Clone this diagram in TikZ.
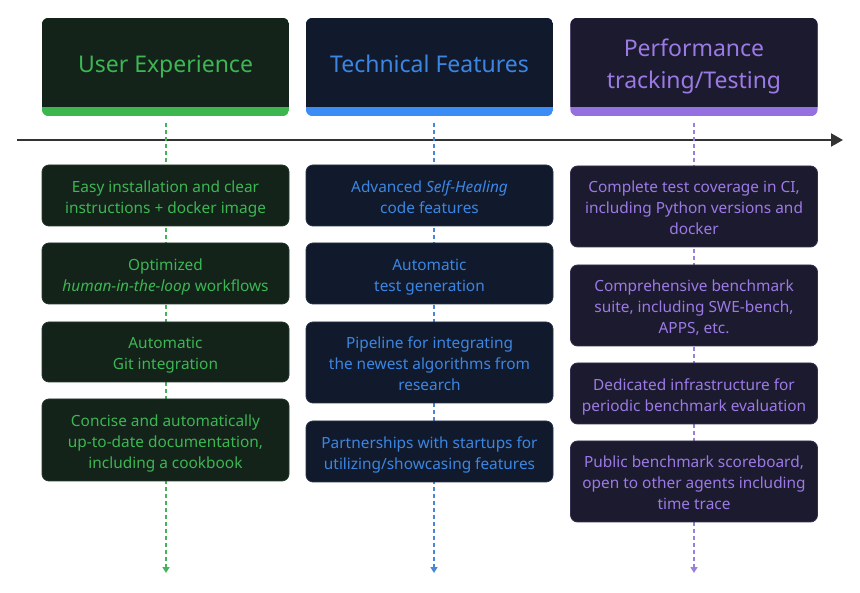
\documentclass[tikz,border=0pt]{standalone}
\usepackage{fontspec}
\setmainfont{Noto Sans}
\usetikzlibrary{arrows.meta,backgrounds}
\definecolor{gdark}{HTML}{13231A}
\definecolor{gtext}{HTML}{3DB653}
\definecolor{gbar}{HTML}{3CB64F}
\definecolor{gline}{HTML}{45B35A}
\definecolor{gedge}{HTML}{25372B}
\definecolor{bdark}{HTML}{111A2D}
\definecolor{btext}{HTML}{3C86E2}
\definecolor{bbar}{HTML}{3B8CF5}
\definecolor{bline}{HTML}{4A86D8}
\definecolor{bedge}{HTML}{26324A}
\definecolor{pdark}{HTML}{1C1A2E}
\definecolor{ptext}{HTML}{9C7AE6}
\definecolor{pbar}{HTML}{9470E0}
\definecolor{pline}{HTML}{9A80DC}
\definecolor{pedge}{HTML}{332F4E}
\definecolor{axis}{HTML}{333333}
\tikzset{
  head/.style={minimum width=247pt, minimum height=89pt, inner sep=0pt, align=center,
    text=#1text, font=\fontsize{23}{32}\selectfont, text height=25.5pt, text depth=6pt},
  headtwo/.style={text height=57.5pt},
  card/.style={minimum width=247pt, inner sep=0pt, align=center, rounded corners=7pt,
    fill=#1dark, draw=#1edge, line width=0.8pt, text=#1text, font=\fontsize{15.4}{21}\selectfont,
    text height=39.5pt, text depth=4pt},
  three/.style={text height=60.5pt},
  vline/.style={#1line, line width=1.5pt, dash pattern=on 4pt off 3pt,
    -{Triangle[length=6pt,width=7pt]}},
  axisline/.style={axis, line width=2pt, -{Triangle[length=12pt,width=13pt]}}
}
\begin{document}
\begin{tikzpicture}[x=1pt,y=-1pt]
\useasboundingbox (0,0) rectangle (860,593);
% timeline
\coordinate (tl) at (17,140);
\coordinate (tr) at (843,140);
\draw[axisline] (tl) -- (tr);
% vertical dashed lines
\coordinate (g1) at (166,123); \coordinate (g2) at (166,573);
\coordinate (b1) at (434,123); \coordinate (b2) at (434,573);
\coordinate (p1) at (694,123); \coordinate (p2) at (694,573);
\draw[vline=g] (g1) -- (g2);
\draw[vline=b] (b1) -- (b2);
\draw[vline=p] (p1) -- (p2);
% headers
\node[head=g] (hg) at (165.5,62.5) {User Experience};
\node[head=b] (hb) at (429.5,62.5) {Technical Features};
\node[head=p, headtwo] (hp) at (694,62.5) {Performance\\tracking/Testing};
\begin{scope}[on background layer]
  \foreach \n/\c in {hg/g,hb/b,hp/p}{
    \begin{scope}
      \clip[rounded corners=7pt] (\n.north west) rectangle ([yshift=-9pt]\n.south east);
      \fill[\c bar] (\n.north west) rectangle ([yshift=-9pt]\n.south east);
      \fill[\c dark] (\n.north west) rectangle (\n.south east);
    \end{scope}
  }
\end{scope}
% column 1
\node[card=g, minimum height=61pt] (g-a) at (165.5,195.5) {Easy installation and clear\\instructions + docker image};
\node[card=g, minimum height=61pt] (g-b) at (165.5,273.5) {Optimized\\\textit{human-in-the-loop} workflows};
\node[card=g, minimum height=60pt] (g-c) at (165.5,352) {Automatic\\Git integration};
\node[card=g, three, minimum height=82pt] (g-d) at (165.5,440) {Concise and automatically\\up-to-date documentation,\\including a cookbook};
% column 2
\node[card=b, minimum height=61pt] (b-a) at (429.5,195.5) {Advanced \textit{Self-Healing}\\code features};
\node[card=b, minimum height=61pt] (b-b) at (429.5,273.5) {Automatic\\test generation};
\node[card=b, three, minimum height=81pt] (b-c) at (429.5,362.5) {Pipeline for integrating\\the newest algorithms from\\research};
\node[card=b, minimum height=61pt] (b-d) at (429.5,451.5) {Partnerships with startups for\\utilizing/showcasing features};
% column 3
\node[card=p, three, minimum height=81pt] (p-a) at (694,206.5) {Complete test coverage in CI,\\including Python versions and\\docker};
\node[card=p, three, minimum height=81pt] (p-b) at (694,305.5) {Comprehensive benchmark\\suite, including SWE-bench,\\APPS, etc.};
\node[card=p, minimum height=61pt] (p-c) at (694,393.5) {Dedicated infrastructure for\\periodic benchmark evaluation};
\node[card=p, three, minimum height=81pt] (p-d) at (694,481.5) {Public benchmark scoreboard,\\open to other agents including\\time trace};
\end{tikzpicture}
\end{document}
